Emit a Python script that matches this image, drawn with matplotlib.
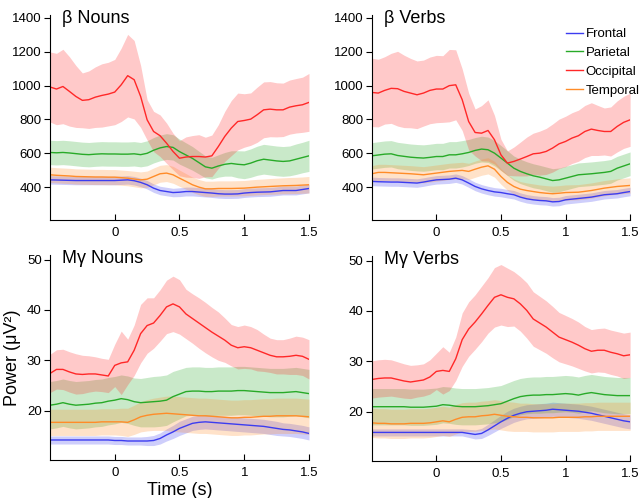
import numpy as np
import matplotlib
matplotlib.use("Agg")
import matplotlib.pyplot as plt

plt.rcParams["font.family"] = ["Liberation Sans", "DejaVu Sans"]

# time axis (s), 50 ms steps
time_s = [-0.5, -0.45, -0.4, -0.35, -0.3, -0.25, -0.2, -0.15, -0.1, -0.05,
          0.0, 0.05, 0.1, 0.15, 0.2, 0.25, 0.3, 0.35, 0.4, 0.45,
          0.5, 0.55, 0.6, 0.65, 0.7, 0.75, 0.8, 0.85, 0.9, 0.95,
          1.0, 1.05, 1.1, 1.15, 1.2, 1.25, 1.3, 1.35, 1.4, 1.45, 1.5]

regions = ["Frontal", "Parietal", "Occipital", "Temporal"]
colors = ["#3c3cf0", "#28aa28", "#ff2828", "#ff8c28"]

# ---- beta, nouns
bn_fro = [443, 442, 441, 440, 439, 439, 439, 439, 439, 439, 439, 441, 443, 438, 428, 414, 394, 380, 374, 368,
          370, 374, 374, 371, 368, 365, 361, 359, 359, 360, 365, 368, 370, 371, 372, 376, 380, 380, 380, 386, 392]
bn_fro_err = [25, 25, 25, 25, 25, 25, 25, 25, 25, 25, 25, 25, 25, 25, 25, 25, 25, 25, 25, 25,
              26, 26, 26, 26, 26, 26, 26, 26, 26, 26, 26, 26, 26, 26, 26, 26, 26, 26, 26, 26, 26]
bn_par = [605, 603, 605, 602, 598, 594, 592, 595, 597, 596, 596, 595, 595, 597, 592, 600, 618, 632, 640, 635,
          610, 590, 570, 545, 520, 512, 525, 535, 540, 535, 532, 542, 556, 565, 560, 555, 552, 555, 565, 575, 585]
bn_par_err = [72, 72, 72, 72, 72, 72, 72, 72, 72, 72, 72, 72, 72, 72, 72, 74, 75, 76, 76, 75,
              74, 72, 70, 67, 65, 64, 66, 70, 75, 80, 82, 84, 86, 88, 88, 88, 88, 88, 90, 90, 92]
bn_occ = [992, 980, 995, 966, 936, 913, 917, 932, 942, 950, 962, 1005, 1059, 1035, 936, 798, 729, 704, 660, 611,
          571, 578, 581, 581, 578, 585, 640, 700, 749, 788, 794, 802, 828, 857, 861, 857, 857, 873, 881, 887, 901]
bn_occ_err = [207, 211, 220, 205, 183, 162, 170, 179, 187, 188, 193, 217, 244, 232, 183, 119, 119, 123, 119, 108,
              104, 119, 124, 129, 117, 123, 129, 148, 163, 168, 158, 155, 163, 165, 163, 160, 158, 160, 161, 163, 171]
bn_tem = [473, 470, 468, 466, 463, 462, 461, 460, 460, 459, 459, 456, 453, 448, 443, 447, 463, 479, 483, 473,
          453, 434, 414, 400, 390, 390, 392, 392, 392, 393, 394, 397, 400, 402, 404, 406, 408, 409, 410, 412, 414]
bn_tem_err = [45, 45, 45, 45, 45, 45, 45, 45, 45, 45, 45, 45, 45, 46, 47, 48, 50, 50, 50, 50,
              48, 46, 45, 45, 45, 45, 45, 45, 45, 45, 45, 46, 46, 46, 47, 47, 47, 48, 48, 48, 49]

# ---- beta, verbs
bv_fro = [434, 432, 431, 430, 430, 428, 426, 424, 430, 437, 443, 445, 447, 453, 443, 424, 404, 390, 380, 372,
          368, 361, 355, 341, 331, 325, 321, 319, 313, 315, 325, 329, 333, 337, 341, 348, 355, 358, 361, 368, 374]
bv_fro_err = [25, 25, 25, 25, 25, 25, 25, 25, 25, 25, 25, 25, 25, 25, 25, 25, 25, 25, 25, 25,
              25, 25, 25, 25, 25, 25, 25, 25, 25, 25, 25, 25, 25, 25, 25, 25, 25, 25, 25, 25, 25]
bv_par = [585, 590, 595, 597, 587, 582, 577, 574, 572, 576, 581, 581, 591, 591, 597, 605, 617, 625, 621, 601,
          572, 542, 512, 493, 479, 467, 459, 449, 439, 443, 453, 463, 473, 476, 479, 483, 487, 493, 512, 525, 538]
bv_par_err = [78, 78, 78, 78, 78, 78, 78, 78, 78, 78, 78, 78, 78, 78, 78, 77, 76, 76, 75, 75,
              74, 73, 72, 72, 71, 71, 70, 70, 70, 70, 70, 70, 70, 70, 70, 70, 70, 70, 70, 70, 70]
bv_occ = [960, 956, 972, 984, 982, 966, 956, 946, 956, 972, 980, 980, 1000, 1005, 917, 788, 723, 719, 735, 680,
          591, 542, 552, 566, 581, 597, 601, 611, 631, 656, 670, 690, 704, 729, 743, 735, 729, 729, 759, 783, 798]
bv_occ_err = [202, 200, 199, 207, 221, 214, 205, 200, 195, 197, 199, 197, 214, 207, 182, 168, 139, 163, 181, 144,
              92, 72, 85, 100, 115, 122, 130, 136, 142, 146, 149, 150, 151, 154, 156, 148, 139, 145, 151, 154, 157]
bv_tem = [479, 487, 487, 485, 483, 481, 479, 476, 473, 478, 483, 488, 493, 496, 499, 493, 506, 518, 526, 506,
          463, 428, 404, 388, 380, 374, 368, 364, 361, 364, 368, 369, 370, 375, 380, 387, 394, 399, 404, 407, 410]
bv_tem_err = [48, 48, 48, 48, 48, 48, 48, 48, 48, 48, 48, 48, 48, 48, 48, 48, 48, 48, 48, 47,
              46, 46, 45, 45, 45, 45, 45, 45, 45, 45, 45, 45, 45, 45, 45, 45, 45, 45, 45, 45, 45]

# ---- M-gamma, nouns
gn_fro = [14.2, 14.2, 14.2, 14.2, 14.2, 14.2, 14.2, 14.2, 14.2, 14.2, 14.1, 14.1, 14.0, 14.0, 14.0, 14.0, 14.1, 14.5, 15.2, 15.8,
          16.5, 17.0, 17.5, 17.7, 17.8, 17.7, 17.6, 17.5, 17.4, 17.3, 17.2, 17.1, 17.0, 16.9, 16.7, 16.5, 16.3, 16.2, 16.0, 15.8, 15.5]
gn_fro_err = [0.8, 0.8, 0.8, 0.8, 0.8, 0.8, 0.8, 0.8, 0.8, 0.8, 0.8, 0.8, 0.8, 0.8, 0.8, 0.9, 1.0, 1.1, 1.2, 1.3,
              1.4, 1.4, 1.4, 1.4, 1.4, 1.4, 1.4, 1.4, 1.4, 1.4, 1.4, 1.4, 1.4, 1.4, 1.4, 1.4, 1.3, 1.3, 1.3, 1.3, 1.3]
gn_par = [21.1, 21.3, 21.6, 21.3, 21.1, 21.2, 21.3, 21.5, 21.6, 21.9, 22.1, 22.4, 22.2, 21.8, 21.6, 21.7, 21.8, 21.9, 22.1, 22.8,
          23.3, 23.8, 23.9, 23.9, 23.8, 23.8, 23.9, 23.9, 23.9, 24.0, 24.0, 23.9, 23.8, 23.7, 23.6, 23.6, 23.6, 23.7, 23.8, 23.6, 23.4]
gn_par_err = [4.7, 4.7, 4.7, 4.7, 4.7, 4.7, 4.7, 4.7, 4.7, 4.7, 4.7, 4.7, 4.7, 4.7, 4.8, 4.9, 5.0, 5.0, 5.0, 5.0,
              4.9, 4.8, 4.8, 4.8, 4.8, 4.8, 4.8, 4.8, 4.8, 4.8, 4.8, 4.8, 4.8, 4.8, 4.8, 4.8, 4.8, 4.8, 4.8, 4.8, 4.8]
gn_occ = [27.4, 28.2, 28.2, 27.7, 27.3, 27.2, 27.3, 27.3, 27.1, 26.9, 29.0, 29.5, 29.7, 32.0, 35.3, 36.9, 37.4, 38.9, 40.6, 41.2,
          40.6, 39.2, 38.3, 37.4, 36.5, 35.6, 34.8, 34.0, 33.0, 32.5, 32.7, 32.5, 32.0, 31.5, 31.0, 30.7, 30.7, 30.8, 31.0, 30.8, 30.2]
gn_occ_err = [3.8, 3.9, 4.0, 4.0, 4.0, 3.8, 3.6, 3.4, 3.3, 3.3, 4.2, 6.3, 4.5, 5.0, 5.8, 5.5, 5.0, 5.1, 5.3, 5.5,
              5.4, 4.9, 4.9, 5.0, 5.0, 4.9, 4.8, 4.4, 4.1, 4.2, 4.3, 4.2, 4.1, 3.7, 3.4, 3.4, 3.4, 3.6, 3.8, 3.8, 3.9]
gn_tem = [17.7, 17.7, 17.7, 17.7, 17.7, 17.7, 17.7, 17.7, 17.8, 17.8, 17.8, 17.8, 17.7, 18.2, 18.8, 19.1, 19.3, 19.4, 19.5, 19.4,
          19.3, 19.2, 19.1, 19.0, 19.0, 18.9, 18.8, 18.7, 18.6, 18.6, 18.7, 18.7, 18.8, 18.9, 18.9, 19.0, 19.0, 19.0, 19.0, 18.9, 18.8]
gn_tem_err = [2.6, 2.6, 2.6, 2.6, 2.6, 2.6, 2.6, 2.6, 2.6, 2.6, 2.6, 2.7, 2.8, 2.9, 3.0, 3.1, 3.2, 3.3, 3.4, 3.5,
              3.5, 3.5, 3.5, 3.5, 3.5, 3.5, 3.5, 3.5, 3.5, 3.5, 3.5, 3.5, 3.5, 3.5, 3.5, 3.5, 3.5, 3.5, 3.5, 3.5, 3.5]

# ---- M-gamma, verbs
gv_fro = [15.9, 15.9, 15.9, 15.9, 15.9, 15.9, 15.9, 15.9, 15.9, 15.9, 15.9, 15.9, 15.9, 15.9, 15.9, 15.7, 15.5, 15.7, 16.4, 17.2,
          18.0, 18.7, 19.3, 19.7, 20.0, 20.1, 20.2, 20.3, 20.5, 20.4, 20.3, 20.2, 20.1, 19.9, 19.7, 19.4, 19.1, 18.8, 18.5, 18.2, 18.0]
gv_fro_err = [0.7, 0.7, 0.7, 0.7, 0.7, 0.7, 0.7, 0.7, 0.7, 0.7, 0.7, 0.7, 0.7, 0.7, 0.7, 0.8, 0.9, 1.0, 1.1, 1.2,
              1.3, 1.4, 1.4, 1.4, 1.4, 1.4, 1.4, 1.4, 1.4, 1.4, 1.4, 1.4, 1.4, 1.4, 1.4, 1.4, 1.4, 1.4, 1.4, 1.4, 1.4]
gv_par = [21.0, 21.0, 21.0, 21.0, 21.0, 21.0, 20.9, 20.9, 20.9, 21.0, 21.1, 21.4, 21.3, 21.1, 21.0, 21.0, 21.0, 21.1, 21.2, 21.4,
          21.6, 22.1, 22.6, 23.0, 23.2, 23.3, 23.3, 23.4, 23.4, 23.5, 23.6, 23.5, 23.3, 23.6, 23.8, 23.6, 23.4, 23.3, 23.2, 23.2, 23.2]
gv_par_err = [3.6, 3.6, 3.6, 3.6, 3.6, 3.6, 3.6, 3.6, 3.6, 3.6, 3.6, 3.6, 3.6, 3.6, 3.6, 3.6, 3.6, 3.6, 3.6, 3.6,
              3.6, 3.6, 3.6, 3.6, 3.6, 3.6, 3.6, 3.6, 3.6, 3.6, 3.6, 3.6, 3.6, 3.6, 3.6, 3.6, 3.6, 3.6, 3.6, 3.6, 3.6]
gv_occ = [26.4, 26.6, 26.7, 26.7, 26.4, 26.1, 25.9, 26.1, 26.3, 26.9, 28.0, 28.2, 28.0, 30.5, 34.3, 36.4, 37.8, 39.4, 41.1, 42.7,
          43.2, 42.7, 42.4, 41.4, 40.1, 38.4, 37.6, 36.8, 35.8, 34.8, 34.3, 33.8, 33.2, 32.5, 32.0, 32.2, 32.2, 31.8, 31.5, 31.1, 31.3]
gv_occ_err = [3.7, 3.7, 3.7, 3.6, 3.5, 3.4, 3.3, 3.2, 3.2, 3.4, 3.6, 4.7, 3.8, 4.3, 5.3, 5.4, 5.4, 5.5, 5.5, 5.9,
              6.0, 5.8, 5.4, 5.4, 5.5, 5.4, 5.3, 5.2, 5.1, 4.9, 4.8, 4.7, 4.6, 4.4, 4.3, 4.3, 4.4, 4.4, 4.4, 4.5, 4.5]
gv_tem = [17.8, 17.7, 17.7, 17.6, 17.6, 17.6, 17.7, 17.7, 17.7, 17.8, 18.0, 18.2, 18.0, 18.5, 18.9, 19.0, 19.0, 19.2, 19.3, 19.5,
          19.3, 19.1, 19.0, 18.9, 18.9, 18.8, 18.8, 18.8, 18.8, 18.9, 18.9, 18.9, 18.9, 19.0, 19.0, 19.1, 19.1, 19.1, 19.1, 19.1, 19.1]
gv_tem_err = [2.9, 2.9, 2.9, 2.9, 2.9, 2.9, 2.9, 2.9, 2.9, 2.9, 2.9, 2.9, 2.9, 2.9, 2.9, 2.9, 2.9, 2.9, 2.9, 2.9,
              2.9, 2.9, 2.9, 2.8, 2.8, 2.8, 2.8, 2.8, 2.8, 2.8, 2.8, 2.8, 2.8, 2.8, 2.8, 2.8, 2.8, 2.8, 2.8, 2.8, 2.8]

panels = [
    ("β Nouns", [bn_fro, bn_par, bn_occ, bn_tem], [bn_fro_err, bn_par_err, bn_occ_err, bn_tem_err]),
    ("β Verbs", [bv_fro, bv_par, bv_occ, bv_tem], [bv_fro_err, bv_par_err, bv_occ_err, bv_tem_err]),
    ("Mγ Nouns", [gn_fro, gn_par, gn_occ, gn_tem], [gn_fro_err, gn_par_err, gn_occ_err, gn_tem_err]),
    ("Mγ Verbs", [gv_fro, gv_par, gv_occ, gv_tem], [gv_fro_err, gv_par_err, gv_occ_err, gv_tem_err]),
]

fig = plt.figure(figsize=(6.41, 4.98), dpi=100)
# axes boxes in figure fractions: [left, bottom, width, height]
boxes = [[0.078, 0.558, 0.404, 0.412],
         [0.580, 0.558, 0.403, 0.412],
         [0.078, 0.076, 0.404, 0.412],
         [0.580, 0.074, 0.403, 0.412]]

t = np.array(time_s)
axes = []
for i, (title, means, errs) in enumerate(panels):
    ax = fig.add_axes(boxes[i])
    axes.append(ax)
    for m, e, c in zip(means, errs, colors):
        m = np.array(m)
        e = np.array(e)
        ax.fill_between(t, m - e, m + e, color=c, alpha=0.25, linewidth=0)
    for m, c, name in zip(means, colors, regions):
        ax.plot(t, m, color=c, lw=1.0, label=name)

    ax.set_xlim(-0.5, 1.5)
    ax.set_xticks([0, 0.5, 1, 1.5])
    ax.set_xticklabels(["0", "0.5", "1", "1.5"])
    if i < 2:
        ax.set_ylim(205, 1418)
        ax.set_yticks([400, 600, 800, 1000, 1200, 1400])
    else:
        ax.set_ylim(10.2, 50.9)
        ax.set_yticks([20, 30, 40, 50])
    for s in ["top", "right"]:
        ax.spines[s].set_visible(False)
    ax.tick_params(axis="x", direction="in", length=4, labelsize=9.5, pad=5)
    ax.tick_params(axis="y", direction="out", length=4, labelsize=9.5, pad=2)
    ax.text(0.046, 0.962, title, transform=ax.transAxes, fontsize=13, va="baseline", ha="left")

axes[2].set_ylabel("Power (μV²)", fontsize=13, labelpad=4)
axes[2].set_xlabel("Time (s)", fontsize=13, labelpad=2)

handles, labels = axes[1].get_legend_handles_labels()
fig.legend(handles, labels, loc="upper right", bbox_to_anchor=(0.998, 0.944),
           frameon=False, fontsize=9.5, handlelength=1.3, handletextpad=0.2,
           labelspacing=0.5, borderpad=0, borderaxespad=0)

fig.savefig("out.png", dpi=100)
